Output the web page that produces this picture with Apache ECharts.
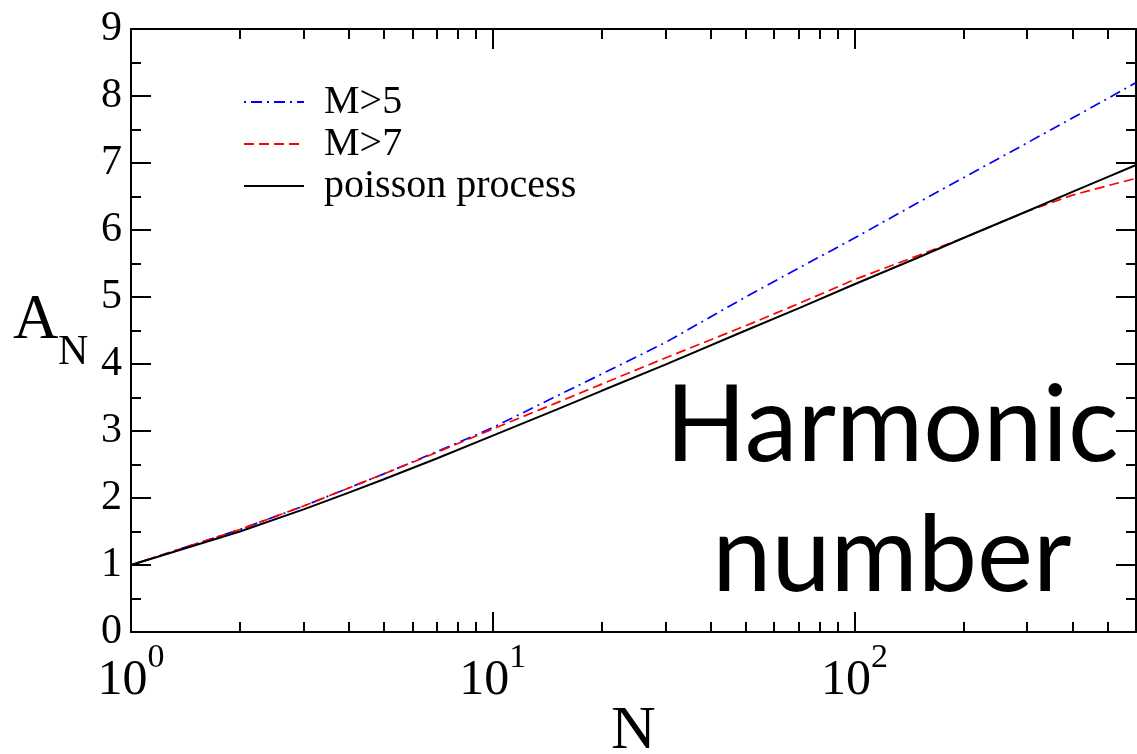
<!DOCTYPE html>
<html>
<head>
<meta charset="utf-8">
<script src="https://cdn.jsdelivr.net/npm/echarts@6/dist/echarts.min.js"></script>
<style>
  html, body { margin: 0; padding: 0; background: #fff; }
  #chart { width: 1137px; height: 754px; }
</style>
</head>
<body>
<div id="chart"></div>
<script>
// values
const nValues = [1, 2, 3, 4, 5, 7, 10, 15, 20, 30, 50, 70, 100, 150, 200, 300, 400, 500, 600];
const m5Values = [1, 1.53, 1.88, 2.15, 2.36, 2.69, 3.05, 3.52, 3.85, 4.32, 5.0, 5.43, 5.88, 6.41, 6.78, 7.3, 7.67, 7.96, 8.2];
const m7Values = [1, 1.53, 1.88, 2.15, 2.36, 2.68, 3.03, 3.42, 3.7, 4.09, 4.57, 4.9, 5.26, 5.62, 5.88, 6.28, 6.52, 6.66, 6.77];
const poissonValues = [1, 1.5, 1.83, 2.08, 2.28, 2.59, 2.93, 3.32, 3.6, 3.99, 4.5, 4.83, 5.19, 5.59, 5.88, 6.28, 6.57, 6.79, 6.97];

const majorXTicks = [1, 10, 100];
const minorXTicks = [2, 3, 4, 5, 6, 7, 8, 9, 20, 30, 40, 50, 60, 70, 80, 90, 200, 300, 400, 500];

const serif = 'Liberation Serif';

function pairs(ys) {
  return nValues.map((n, i) => [n, ys[i]]);
}

function makeXAxis(position, ticks, len, withLabels) {
  return {
    type: 'log',
    logBase: 10,
    min: 1,
    max: 600,
    position: position,
    axisLine: { show: len === 20, lineStyle: { color: '#000', width: 2 } },
    axisTick: {
      inside: true,
      length: len,
      customValues: ticks,
      lineStyle: { color: '#000', width: 2 }
    },
    axisLabel: withLabels ? {
      customValues: ticks,
      margin: 9,
      formatter: (v) => '{b|10}{s|' + Math.round(Math.log10(v)) + '}',
      rich: {
        b: { fontFamily: serif, fontSize: 50, lineHeight: 80, color: '#000' },
        s: { fontFamily: serif, fontSize: 34, lineHeight: 34, verticalAlign: 'top', color: '#000' }
      }
    } : { show: false },
    splitLine: { show: false },
    minorTick: { show: false }
  };
}

function makeYAxis(position, withLabels) {
  return {
    type: 'value',
    min: 0,
    max: 9,
    interval: 1,
    position: position,
    axisLine: { show: true, lineStyle: { color: '#000', width: 2 } },
    axisTick: { inside: true, length: 20, lineStyle: { color: '#000', width: 2 } },
    minorTick: { show: true, splitNumber: 2, length: 10, lineStyle: { color: '#000', width: 2 } },
    axisLabel: withLabels ? {
      fontFamily: serif, fontSize: 42, color: '#000', margin: 9
    } : { show: false },
    splitLine: { show: false }
  };
}

const chart = echarts.init(document.getElementById('chart'));

const xBottom = makeXAxis('bottom', majorXTicks, 20, true);
xBottom.name = 'N';
xBottom.nameLocation = 'middle';
xBottom.nameMoveOverlap = false;
xBottom.nameGap = 69;
xBottom.nameTextStyle = { fontFamily: serif, fontSize: 62, color: '#000' };

chart.setOption({
  animation: false,
  backgroundColor: '#fff',
  grid: { left: 131, right: 1, top: 29, bottom: 122, containLabel: false, outerBoundsMode: 'none' },
  legend: {
    orient: 'vertical',
    left: 243,
    top: 82,
    padding: 0,
    itemWidth: 60,
    itemHeight: 14,
    itemGap: 2,
    itemStyle: { opacity: 0 },
    data: ['M>5', 'M>7', 'poisson process'],
    textStyle: { fontFamily: serif, fontSize: 40, lineHeight: 40, color: '#000', padding: [0, 0, 0, 15] }
  },
  xAxis: [
    xBottom,
    makeXAxis('bottom', minorXTicks, 10, false),
    makeXAxis('top', majorXTicks, 20, false),
    makeXAxis('top', minorXTicks, 10, false)
  ],
  yAxis: [makeYAxis('left', true), makeYAxis('right', false)],
  graphic: [
    { type: 'text', left: 13, top: 290, style: { text: 'A', fontFamily: serif, fontSize: 63, fill: '#000' } },
    { type: 'text', left: 58, top: 332, style: { text: 'N', fontFamily: serif, fontSize: 42, fill: '#000' } },
    { type: 'text', x: 892, y: 427, style: { text: 'Harmonic', fontFamily: 'Lato', fontSize: 106, fill: '#000', textAlign: 'center', textVerticalAlign: 'middle' } },
    { type: 'text', x: 892, y: 557, style: { text: 'number', fontFamily: 'Lato', fontSize: 106, fill: '#000', textAlign: 'center', textVerticalAlign: 'middle' } }
  ],
  series: [
    {
      name: 'M>5', type: 'line', symbol: 'none', data: pairs(m5Values),
      lineStyle: { color: '#0000ff', width: 1.7, type: [2, 5, 11, 5] },
      itemStyle: { color: '#0000ff' }
    },
    {
      name: 'M>7', type: 'line', symbol: 'none', data: pairs(m7Values),
      lineStyle: { color: '#ff0000', width: 1.7, type: [10, 5] },
      itemStyle: { color: '#ff0000' }
    },
    {
      name: 'poisson process', type: 'line', symbol: 'none', data: pairs(poissonValues),
      lineStyle: { color: '#000', width: 2, type: 'solid' },
      itemStyle: { color: '#000' }
    }
  ]
});
</script>
</body>
</html>
